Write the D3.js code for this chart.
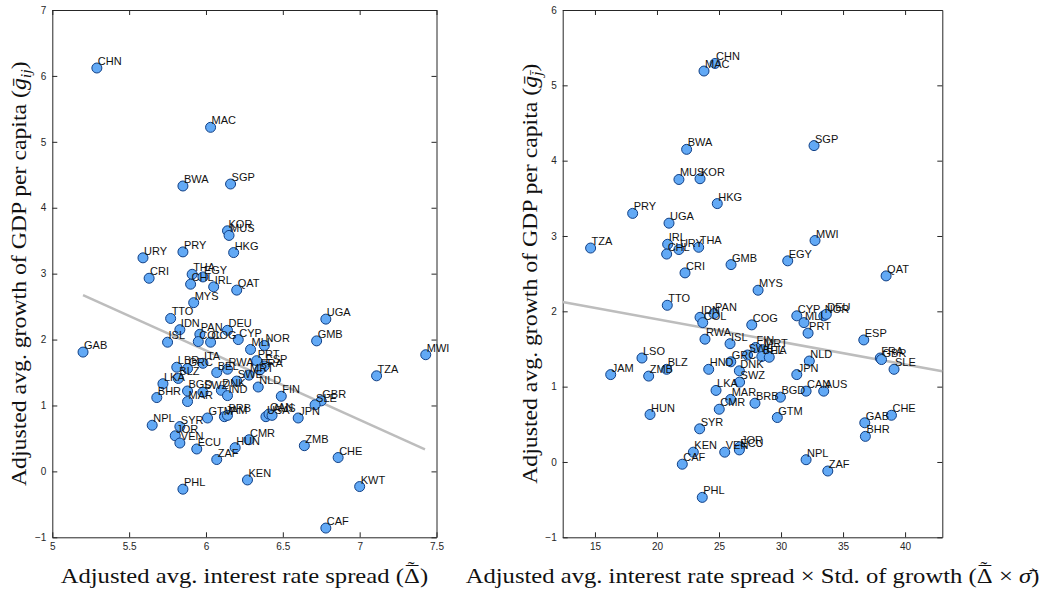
<!DOCTYPE html>
<html>
<head>
<meta charset="utf-8">
<script src="https://cdn.jsdelivr.net/npm/d3@7"></script>
<style>
  body { margin: 0; background: #fff; }
  svg { display: block; }
</style>
</head>
<body>
<svg id="chart" width="1040" height="592"></svg>
<script>
// ---- Left panel: adjusted spread vs adjusted growth ----
const codesA = ["CHN","MAC","BWA","SGP","KOR","MUS","URY","PRY","HKG","CRI",
  "THA","EGY","CHL","IRL","QAT","MYS","TTO","IDN","UGA","PAN",
  "DEU","ISL","COL","COG","CYP","GMB","MLI","NOR","GAB","PRT",
  "ESP","FRA","MRT","SWE","NLD","FIN","GBR","SLE","JPN","TZA",
  "MWI","CMR","HUN","ZMB","CHE","KEN","KWT","CAF","USA","CAN",
  "AUS","LBR","GRC","ITA","BEL","RWA","BLZ","LKA","BHR","BGD",
  "SWZ","DNK","IND","MAR","NPL","SYR","JOR","VEN","ECU","GTM",
  "JAM","BRB","ZAF","PHL"];
const spreadA = [5.29,6.03,5.85,6.16,6.14,6.15,5.59,5.85,6.18,5.63,
  5.91,5.98,5.90,6.05,6.20,5.92,5.77,5.83,6.78,5.96,
  6.14,5.75,5.95,6.03,6.21,6.72,6.29,6.38,5.20,6.33,
  6.38,6.35,6.28,6.20,6.34,6.49,6.75,6.71,6.60,7.11,
  7.43,6.28,6.19,6.64,6.86,6.27,7.00,6.78,6.39,6.41,
  6.43,5.81,5.88,5.98,6.07,6.14,5.82,5.72,5.68,5.88,
  5.98,6.10,6.14,5.88,5.65,5.83,5.80,5.83,5.94,6.01,
  6.12,6.14,6.07,5.85];
const growthA = [6.12,5.22,4.33,4.36,3.65,3.58,3.24,3.33,3.32,2.93,
  2.99,2.95,2.84,2.80,2.75,2.56,2.32,2.15,2.31,2.08,
  2.14,1.96,1.97,1.96,2.00,1.98,1.85,1.91,1.81,1.68,
  1.60,1.54,1.46,1.37,1.28,1.14,1.07,1.01,0.81,1.45,
  1.77,0.48,0.36,0.39,0.21,-0.13,-0.23,-0.86,0.83,0.87,
  0.85,1.58,1.56,1.64,1.50,1.55,1.41,1.33,1.12,1.22,
  1.20,1.23,1.15,1.06,0.70,0.68,0.54,0.43,0.34,0.81,
  0.83,0.85,0.18,-0.27];
const fitXA = [5.2, 7.425];
const fitYA = [2.675, 0.334];
const xTicksA = [5, 5.5, 6, 6.5, 7, 7.5];
const yTicksA = [-1, 0, 1, 2, 3, 4, 5, 6, 7];

// ---- Right panel: spread x std. of growth vs adjusted growth ----
const codesB = ["CHN","MAC","BWA","SGP","MUS","KOR","HKG","PRY","UGA","TZA",
  "IRL","CHL","URY","THA","GMB","CRI","EGY","MWI","QAT","MYS",
  "TTO","IDN","PAN","COL","COG","CYP","MLI","NOR","DEU","PRT",
  "ESP","FRA","GBR","SLE","NLD","JPN","CAN","AUS","BGD","GAB",
  "CHE","BHR","NPL","ZAF","RWA","ISL","LSO","JAM","ZMB","BLZ",
  "HND","GRC","SWE","FIN","MRT","BEL","ITA","DNK","SWZ","LKA",
  "MAR","CMR","BRB","GTM","HUN","SYR","KEN","VEN","JOR","ECU",
  "CAF","PHL"];
const spreadSdB = [24.68,23.79,22.39,32.66,21.77,23.47,24.86,18.04,20.97,14.65,
  20.86,20.78,21.77,23.36,25.97,22.26,30.54,32.74,38.47,28.15,
  20.83,23.47,24.60,23.69,27.64,31.27,31.85,33.45,33.65,32.18,
  36.67,38.00,38.10,39.11,32.28,31.27,32.02,33.44,29.95,36.75,
  38.90,36.80,32.02,33.77,23.87,25.89,18.79,16.27,19.33,20.78,
  24.17,25.95,27.30,27.95,28.55,28.45,29.05,26.64,26.66,24.76,
  25.94,25.02,27.90,29.70,19.44,23.44,22.93,25.46,26.69,26.64,
  22.04,23.65];
const growthB = [5.29,5.19,4.15,4.20,3.75,3.76,3.43,3.30,3.17,2.84,
  2.89,2.76,2.82,2.85,2.62,2.51,2.67,2.94,2.47,2.28,
  2.08,1.92,1.97,1.85,1.82,1.94,1.85,1.94,1.96,1.71,
  1.62,1.38,1.36,1.23,1.34,1.16,0.94,0.94,0.86,0.52,
  0.62,0.34,0.03,-0.12,1.63,1.57,1.38,1.16,1.14,1.23,
  1.23,1.33,1.42,1.52,1.49,1.40,1.39,1.21,1.06,0.95,
  0.83,0.70,0.78,0.59,0.63,0.44,0.13,0.13,0.20,0.16,
  -0.03,-0.47];
const fitXB = [12.4, 43];
const fitYB = [2.124, 1.204];
const xTicksB = [15, 20, 25, 30, 35, 40];
const yTicksB = [-1, 0, 1, 2, 3, 4, 5, 6];

const svg = d3.select("#chart");
const axisColor = "#262626";
const serif = "'Liberation Serif', 'Times New Roman', serif";
const titleStretch = 1.12;   // widen the serif titles a little

// Delta with a tilde and a bar stacked above it
function accentedDelta(t) {
  t.append("tspan").text("\u0394");
  t.append("tspan").attr("dx", -12.3).attr("dy", -2.5).text("\u00af");
  t.append("tspan").attr("dx", -9.5).attr("dy", -5.5).style("font-size", "18px").text("\u02dc");
  return t.append("tspan").attr("dx", 5).attr("dy", 8);
}

function drawPanel(cfg) {
  const g = svg.append("g");
  const x = d3.scaleLinear().domain(cfg.xDomain).range([cfg.left, cfg.right]);
  const y = d3.scaleLinear().domain(cfg.yDomain).range([cfg.bottom, cfg.top]);
  const fmt = d3.format("~g");

  // boxed axes with inward ticks on every side
  const axes = [
    [d3.axisBottom(x).tickValues(cfg.xTicks).tickFormat(fmt).tickPadding(6), `translate(0,${cfg.bottom})`],
    [d3.axisTop(x).tickValues(cfg.xTicks).tickFormat(""), `translate(0,${cfg.top})`],
    [d3.axisLeft(y).tickValues(cfg.yTicks).tickFormat(fmt).tickPadding(6), `translate(${cfg.left},0)`],
    [d3.axisRight(y).tickValues(cfg.yTicks).tickFormat(""), `translate(${cfg.right},0)`]
  ];
  axes.forEach(([ax, tr]) => {
    const a = g.append("g").attr("transform", tr)
      .call(ax.tickSizeInner(-5).tickSizeOuter(0));
    a.select(".domain").attr("stroke", axisColor).attr("stroke-width", 1);
    a.selectAll(".tick line").attr("stroke", axisColor);
    a.selectAll(".tick text").attr("fill", axisColor)
      .style("font-family", "'Liberation Sans', Arial, sans-serif")
      .style("font-size", "10px");
  });

  // fitted line
  g.append("line")
    .attr("x1", x(cfg.fitX[0])).attr("y1", y(cfg.fitY[0]))
    .attr("x2", x(cfg.fitX[1])).attr("y2", y(cfg.fitY[1]))
    .attr("stroke", "#bdbdbd").attr("stroke-width", 2.5);

  const idx = d3.range(cfg.codes.length);

  g.append("g").selectAll("circle").data(idx).join("circle")
    .attr("cx", i => x(cfg.xs[i]))
    .attr("cy", i => y(cfg.ys[i]))
    .attr("r", 5)
    .attr("fill", "#62a9f5")
    .attr("stroke", "#0f3f86")
    .attr("stroke-width", 1);

  g.append("g").selectAll("text").data(idx).join("text")
    .attr("x", i => x(cfg.xs[i]) + 1)
    .attr("y", i => y(cfg.ys[i]) - 3)
    .text(i => cfg.codes[i])
    .attr("fill", "#111")
    .style("font-family", "'Liberation Sans', Arial, sans-serif")
    .style("font-size", "11px");

  // axis titles
  const xl = svg.append("text")
    .attr("transform", `translate(${(cfg.left + cfg.right) / 2},583) scale(${titleStretch},1)`)
    .attr("text-anchor", "middle")
    .attr("fill", "#111")
    .style("font-family", serif)
    .style("font-size", "22px");
  cfg.xTitle(xl);

  const yl = svg.append("text")
    .attr("transform", `translate(${cfg.left - 26},${(cfg.top + cfg.bottom) / 2}) rotate(-90) scale(${titleStretch - 0.04},1)`)
    .attr("text-anchor", "middle")
    .attr("fill", "#111")
    .style("font-family", serif)
    .style("font-size", "22px");
  yl.append("tspan").text("Adjusted avg. growth of GDP per capita (");
  yl.append("tspan").style("font-style", "italic").text("g\u0304");
  yl.append("tspan").attr("dy", 5).style("font-size", "15px").style("font-style", "italic").text(cfg.sub);
  yl.append("tspan").attr("dy", -5).text(")");
}

drawPanel({
  left: 52.3, right: 436.5, top: 10, bottom: 537.3,
  xDomain: [5, 7.5], yDomain: [-1, 7],
  xTicks: xTicksA, yTicks: yTicksA,
  codes: codesA, xs: spreadA, ys: growthA,
  fitX: fitXA, fitY: fitYA,
  sub: "ij",
  xTitle: t => {
    t.append("tspan").text("Adjusted avg. interest rate spread (");
    accentedDelta(t).text(")");
  }
});

drawPanel({
  left: 562.7, right: 942.3, top: 10, bottom: 537.3,
  xDomain: [12.4, 43], yDomain: [-1, 6],
  xTicks: xTicksB, yTicks: yTicksB,
  codes: codesB, xs: spreadSdB, ys: growthB,
  fitX: fitXB, fitY: fitYB,
  sub: "j\u0304",
  xTitle: t => {
    t.append("tspan").text("Adjusted avg. interest rate spread \u00d7 Std. of growth (");
    accentedDelta(t).text(" \u00d7 ");
    t.append("tspan").style("font-style", "italic").text("\u03c3\u0304");
    t.append("tspan").text(")");
  }
});
</script>
</body>
</html>
